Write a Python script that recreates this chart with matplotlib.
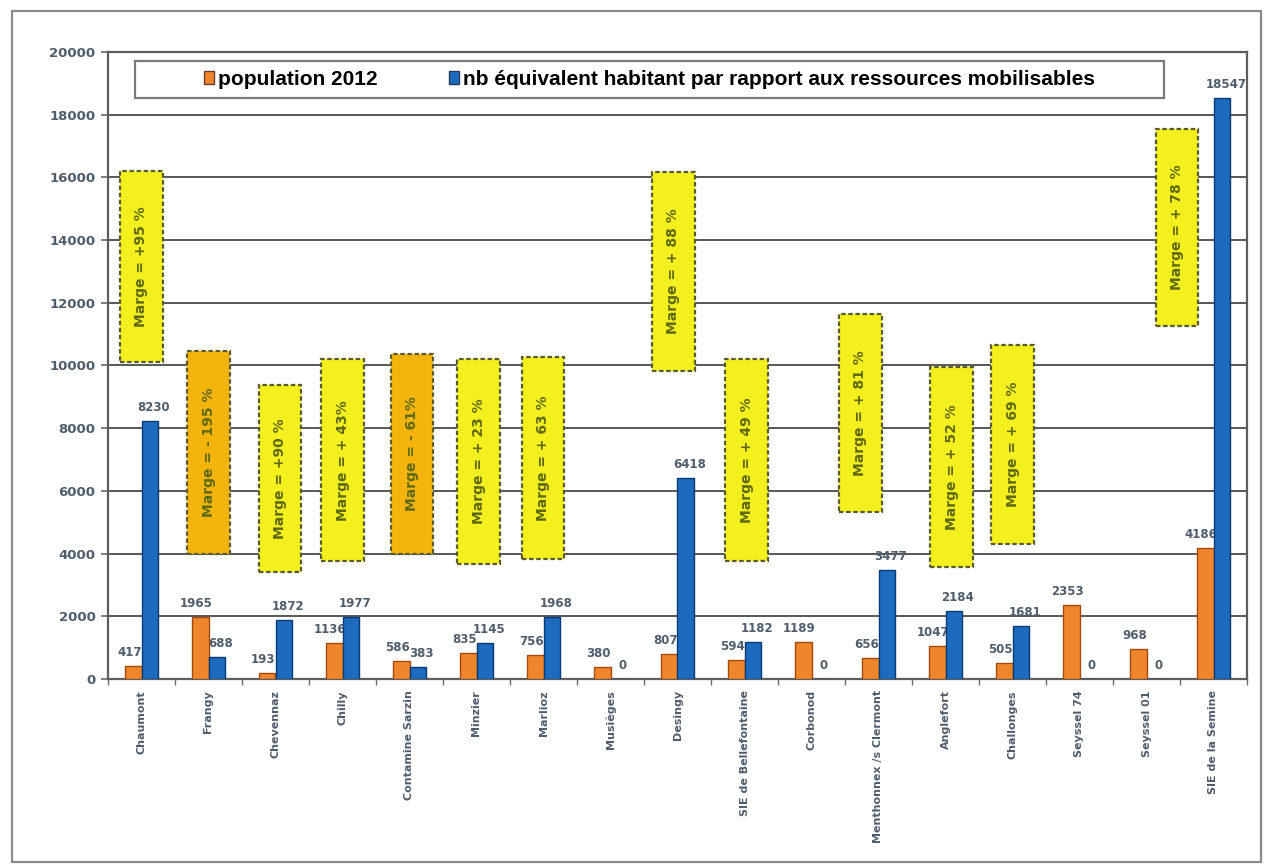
import matplotlib
matplotlib.use("Agg")
import matplotlib.pyplot as plt
from matplotlib.patches import Rectangle, Patch
import numpy as np

# --- data -------------------------------------------------------------
communes = ["Chaumont", "Frangy", "Chevennaz", "Chilly", "Contamine Sarzin",
            "Minzier", "Marlioz", "Musièges", "Desingy", "SIE de Bellefontaine",
            "Corbonod", "Menthonnex /s Clermont", "Anglefort", "Challonges",
            "Seyssel 74", "Seyssel 01", "SIE de la Semine"]
population_2012 = [417, 1965, 193, 1136, 586, 835, 756, 380, 807, 594,
                   1189, 656, 1047, 505, 2353, 968, 4186]
eq_habitants = [8230, 688, 1872, 1977, 383, 1145, 1968, 0, 6418, 1182,
                0, 3477, 2184, 1681, 0, 0, 18547]

# margin call-outs: commune index, text, deficit flag
marge_idx = [0, 1, 2, 3, 4, 5, 6, 8, 9, 11, 12, 13, 16]
marge_txt = ["Marge = +95 %", "Marge = - 195 %", "Marge = +90 %", "Marge = + 43%",
             "Marge = - 61%", "Marge = + 23 %", "Marge = + 63 %", "Marge = + 88 %",
             "Marge = + 49 %", "Marge = + 81 %", "Marge = + 52 %", "Marge = + 69 %",
             "Marge = + 78 %"]
marge_deficit = [False, True, False, False, True, False, False, False,
                 False, False, False, False, False]

series_labels = ["population 2012",
                 "nb équivalent habitant par rapport aux ressources mobilisables"]

# --- call-out layout (x shift in category units, bottom/top on the y scale)
box_layout = [(0.0, 10100, 16200), (0.0, 3990, 10460), (0.07, 3410, 9380),
              (0.0, 3760, 10200), (0.04, 3990, 10370), (0.03, 3670, 10200),
              (-0.01, 3830, 10270), (-0.06, 9820, 16170), (0.03, 3760, 10200),
              (-0.27, 5330, 11640), (0.09, 3570, 9950), (0.0, 4300, 10650),
              (-0.54, 11260, 17540)]

# --- styling ------------------------------------------------------------
ORANGE = "#f0862c"
ORANGE_EDGE = "#a04a10"
BLUE = "#1c6bbf"
BLUE_EDGE = "#0b3a70"
LABEL_GREY = "#4f5e6c"
YELLOW = "#f3f01e"
GOLD = "#f5b40c"
BOX_EDGE = "#5b5a2c"
BOX_TEXT = "#5f6a10"

fig = plt.figure(figsize=(12.64, 8.65), dpi=100)
fig.patch.set_facecolor("white")

# outer chart border
fig.add_artist(Rectangle((12 / 1264, 3 / 865), 1249 / 1264, 851 / 865,
                         transform=fig.transFigure, fill=False,
                         edgecolor="#8a8a8a", linewidth=1.6))

ax = fig.add_axes([108 / 1264, (865 - 679) / 865, 1139 / 1264, 627 / 865])
ax.set_facecolor("white")

x = np.arange(len(communes))
w = 0.24

bars_pop = ax.bar(x - w / 2, population_2012, w, color=ORANGE,
                  edgecolor=ORANGE_EDGE, linewidth=1.0, zorder=4,
                  label=series_labels[0])
bars_eq = ax.bar(x + w / 2, eq_habitants, w, color=BLUE,
                 edgecolor=BLUE_EDGE, linewidth=1.0, zorder=4,
                 label=series_labels[1])

# value labels sit behind the bars, as in the source spreadsheet chart;
# a small sideways nudge keeps neighbouring labels apart
for bars, vals, nudge in ((bars_pop, population_2012, -3),
                          (bars_eq, eq_habitants, 3)):
    for b, v in zip(bars, vals):
        ax.annotate(f"{v}", (b.get_x() + b.get_width() / 2, v),
                    xytext=(nudge, 5), textcoords="offset points",
                    ha="center", va="bottom", fontsize=8.5, color=LABEL_GREY,
                    fontweight="bold", zorder=3)

# margin call-out boxes
box_w = 0.63
for i, txt, deficit, (dx, lo, hi) in zip(marge_idx, marge_txt, marge_deficit,
                                         box_layout):
    cx = i + dx
    rect = Rectangle((cx - box_w / 2, lo), box_w, hi - lo,
                     facecolor=GOLD if deficit else YELLOW,
                     edgecolor=BOX_EDGE, linewidth=1.6, linestyle=(0, (2, 1.2)),
                     zorder=5)
    ax.add_patch(rect)
    ax.text(cx, (lo + hi) / 2, txt, rotation=90, ha="center", va="center",
            fontsize=10, fontweight="bold", color=BOX_TEXT, zorder=6)

# axes
ax.set_xlim(-0.5, len(communes) - 0.5)
ax.set_ylim(0, 20000)
ax.set_yticks(np.arange(0, 20001, 2000))
ax.yaxis.grid(True, color="#4a4a4a", linewidth=1.3, zorder=1)
ax.set_axisbelow(True)
ax.tick_params(axis="y", labelsize=9.5, colors="#6b6b6b", labelcolor=LABEL_GREY,
               length=5, width=1.2, pad=4)
for lab in ax.get_yticklabels():
    lab.set_fontweight("bold")

ax.set_xticks(x)
ax.set_xticklabels(communes, rotation=90, fontsize=8, color=LABEL_GREY,
                   fontweight="bold", va="top", ha="center")
ax.tick_params(axis="x", length=0, pad=8)
ax.set_xticks(np.arange(-0.5, len(communes), 1), minor=True)
ax.tick_params(axis="x", which="minor", length=4, width=1.0, color="#6b6b6b")

for s in ax.spines.values():
    s.set_color("#5e5e5e")
    s.set_linewidth(1.6)

# legend strip across the top of the plot area
ax.add_patch(Rectangle((0.024, 0.926), 0.903, 0.060, transform=ax.transAxes,
                       facecolor="white", edgecolor="#7a7a7a", linewidth=1.6,
                       zorder=7))
handles = [Patch(facecolor=ORANGE, edgecolor="#6a3a2a", linewidth=1.0),
           Patch(facecolor=BLUE, edgecolor="#2a3a5a", linewidth=1.0)]
leg = ax.legend(handles, series_labels, loc="center",
                bbox_to_anchor=(0.4755, 0.956), ncol=2, frameon=False,
                prop={"family": "Liberation Sans", "weight": "bold", "size": 15},
                handlelength=0.5, handleheight=0.6, handletextpad=0.2,
                columnspacing=3.4, borderaxespad=0)
leg.set_zorder(8)

fig.savefig("out.png", dpi=100, facecolor="white")
